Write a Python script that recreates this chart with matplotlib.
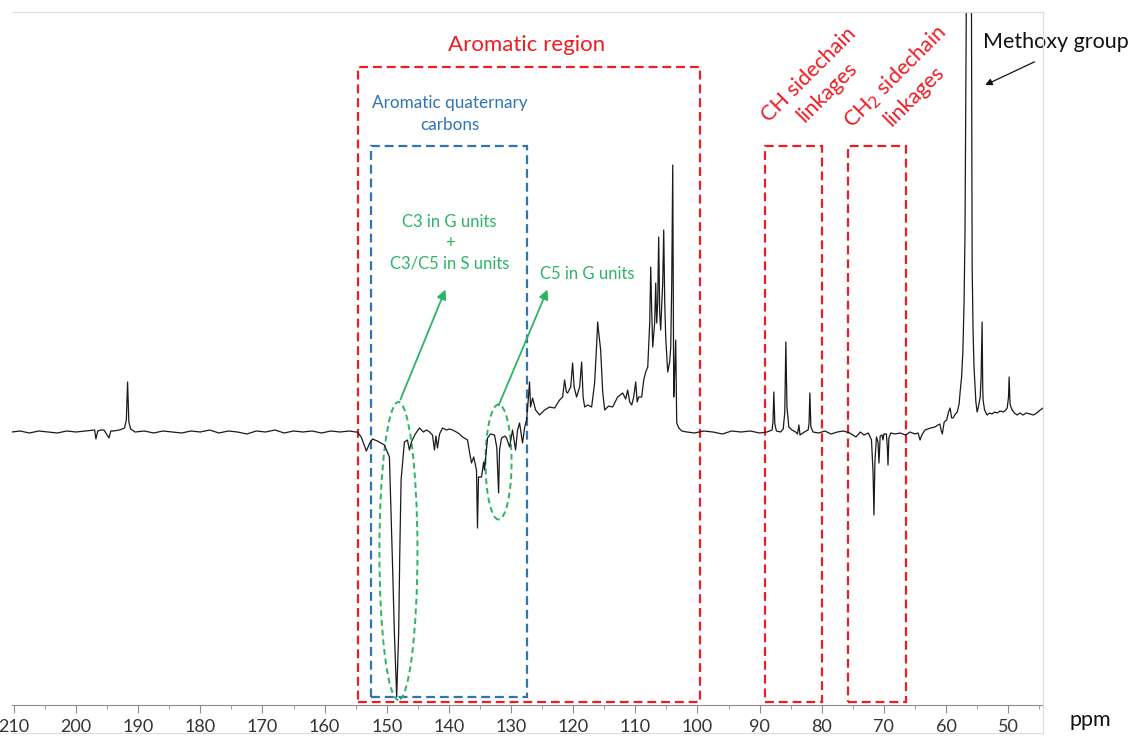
import matplotlib.pyplot as plt
from matplotlib.patches import Rectangle, Ellipse
from matplotlib.lines import Line2D

plt.rcParams['font.family'] = ['Lato', 'DejaVu Sans']

# spectrum, ppm / intensity (arbitrary units)
left_ppm = [210.3, 209, 207.5, 206, 204.5, 203, 201.5, 200, 198.5, 197, 196.8, 196.5, 196, 195.5,
            194.7, 194.4, 194, 193, 192.2, 191.9, 191.7, 191.5, 191.2, 190.5, 189, 187.5, 186,
            184.5, 183, 181.5, 180, 178.5, 177, 175.5, 174, 172.5, 171, 169.5, 168, 166.5, 165,
            163.5, 162, 160.5, 159, 157.5, 156, 155]
left_int = [0, 1, -1, 1, 0, -1, 1, 0, 1, 2, -7, 1, 2, 2,
            -6, 1, 1, 2, 4, 12, 50, 10, 3, 0, 1, -1, 1,
            0, -1, 1, 0, 2, -1, 1, 0, -2, 1, 0, 2, -1, 1,
            0, 1, -1, 1, 0, 1, 0]

arom_ppm = [154.73, 154.1, 153.28, 152.8, 152.31, 151.5, 150.38, 149.57, 149.09, 148.77, 148.4,
            148.08, 147.9, 147.69, 147.16, 146.67, 146.35, 146.03, 145.4, 144.74, 144.1, 143.61,
            143.1, 142.64, 142.32, 142.08, 141.84, 141.5, 141.03, 140.4, 139.9, 139.42, 138.8,
            138.3, 137.81, 137.0, 136.68, 136.36, 136.0, 135.56, 135.4, 135.23, 134.75, 134.4,
            134.27, 133.78, 133.3, 132.66, 132.3, 132.0, 131.85, 131.53, 131.0, 130.72, 130.24,
            129.76, 129.27, 128.95, 128.63, 128.15, 127.8, 127.5, 127.26, 127.02, 126.86, 126.53,
            126.05, 125.41, 124.6, 123.8, 122.99, 122.18, 121.7, 121.38, 121.1, 120.9, 120.4,
            120.09, 119.85, 119.45, 118.96, 118.64, 118.4, 118.15, 117.67, 117.03, 116.55, 116.2,
            116.06, 115.9, 115.58, 115.25, 114.93, 114.3, 113.65, 112.84, 112.04, 111.55, 111.23,
            110.9, 110.58, 110.26, 109.94, 109.7, 109.46, 108.97, 108.65, 108.33, 108.0, 107.68,
            107.52, 107.36, 107.2, 106.88, 106.72, 106.56, 106.4, 106.24, 106.08, 105.92, 105.59,
            105.43, 105.27, 105.11, 104.79, 104.47, 104.3, 104.14, 103.98, 103.82, 103.66, 103.5,
            103.34, 103.0, 102.53, 101.7]
arom_int = [0, -5, -19, -12, -7, -9, -13, -25, -128, -201, -265,
            -201, -120, -48, -10, -8, -18, -10, -2, 4, 0, 2,
            0, -3, -18, -4, -16, -2, 4, 2, 3, 2, 0,
            -2, -5, -8, -20, -31, -25, -38, -96, -45, -45, -30,
            -38, -6, -2, -3, -15, -61, -18, -6, -4, -6, -15,
            2, -18, 2, 9, -11, 5, 12, 30, 50, 25, 34,
            22, 17, 22, 25, 24, 32, 35, 52, 40, 39, 45,
            69, 45, 35, 45, 70, 35, 25, 27, 25, 49, 90,
            110, 100, 82, 40, 22, 26, 25, 35, 39, 33, 42,
            30, 27, 35, 50, 30, 35, 35, 52, 60, 65, 110,
            165, 120, 85, 110, 149, 109, 130, 195, 120, 102, 150,
            202, 130, 95, 60, 70, 85, 150, 267, 35, 60, 92,
            9, 4, 1, 0]

side_ppm = [100.5, 99, 97.5, 96, 94.5, 93, 91.5, 90, 88.8, 88.0, 87.85, 87.71, 87.55, 87.3, 86.6,
            86.2, 85.95, 85.78, 85.6, 85.3, 84.8, 84.2, 83.9, 83.68, 83.5, 82.8, 82.2, 82.05, 81.91,
            81.75, 81.4, 80.5, 79.5, 78.5, 77.5, 76.5, 75.5, 74.5, 73.8, 73.2, 72.5, 72.0, 71.75,
            71.6, 71.45, 71.2, 70.95, 70.79, 70.6, 70.3, 70.15, 70.0, 69.6, 69.45, 69.34, 69.2,
            68.9, 68.2, 67.4, 66.5, 65.8, 65.0, 64.5, 64.19, 63.9, 63.4, 62.5, 61.8, 61.3, 61.0,
            60.8, 60.6, 60.3, 59.9, 59.6, 59.35, 59.1, 58.87, 58.5, 58.2, 57.9]
side_int = [-1, 1, 0, -2, 1, 0, 1, -1, 0, 2, 10, 40, 8, 1, 0,
            3, 20, 90, 25, 5, 2, 0, -2, 7, -3, 0, 2, 8, 39,
            5, 0, -1, 1, -2, 0, 1, -1, -5, 0, -3, -1, -8, -40,
            -83, -30, -5, -10, -31, -4, -3, -8, -2, -2, -15, -33, -6,
            -1, -2, -1, -3, 0, -2, -1, -8, -3, 2, 4, 5, 7, 8,
            2, -2, 10, 12, 20, 24, 14, 14, 18, 20, 28]

meo_ppm = [57.75, 57.5, 57.3, 57.1, 56.95, 56.75, 56.6, 56.3, 56.0, 55.9, 55.8, 55.65, 55.5, 55.2,
           55.0, 54.8, 54.5, 54.36, 54.2, 54.1, 54.04, 53.8, 53.4, 53.0, 52.6, 52.2, 51.78, 51.3,
           50.8, 50.4, 50.16, 49.95, 49.85, 49.7, 49.5, 49.36, 49.0, 48.55, 48.1, 47.6, 47.1,
           46.46, 46.0, 45.65, 45.2, 44.85, 44.4]
meo_int = [39, 55, 79, 130, 199, 400, 700, 1000, 700, 400, 165, 100, 65, 30,
           20, 25, 35, 55, 110, 45, 32, 22, 17, 19, 18, 20, 19, 21,
           20, 22, 24, 35, 55, 28, 24, 22, 19, 17, 19, 17, 19,
           18, 17, 18, 20, 22, 24]

ticks = list(range(210, 40, -10))

RED = '#ee1c24'
BLUE = '#2e75b6'
GREEN = '#2bb466'

fig = plt.figure(figsize=(11.34, 7.4), dpi=100)
ax = fig.add_axes([12 / 1134, 35 / 740, 1031 / 1134, 693 / 740])

ppm = left_ppm + arom_ppm + side_ppm + meo_ppm
inten = left_int + arom_int + side_int + meo_int
ax.plot(ppm, inten, color='#1a1a1a', lw=0.9)

ax.set_xlim(210.3, 44.4)
ax.set_ylim(-273, 420)
ax.set_xticks(ticks)
ax.set_xticklabels([str(t) for t in ticks])
ax.set_xticks(list(range(205, 44, -10)), minor=True)
ax.set_yticks([])
for s in ['left', 'top', 'right']:
    ax.spines[s].set_visible(False)
ax.spines['bottom'].set_color('#8c8c8c')
ax.tick_params(axis='x', which='major', length=6, color='#8c8c8c', labelsize=13,
               labelcolor='#333333', pad=4)
ax.tick_params(axis='x', which='minor', length=3, color='#8c8c8c')

# light frame around the picture
W, H = 1134, 740
for xs, ys in [([12, 1043], [12, 12]), ([1043, 1043], [12, 733]), ([12, 1043], [733, 733])]:
    fig.add_artist(Line2D([x / W for x in xs], [1 - y / H for y in ys], color='#dcdcdc', lw=0.8))

dash = (0, (4, 2.2))
ax.add_patch(Rectangle((154.57, -270), 99.63 - 154.57, 635, fill=False, ec=RED, lw=1.6, ls=dash))
ax.add_patch(Rectangle((152.47, -265), 127.5 - 152.47, 551, fill=False, ec=BLUE, lw=1.6, ls=dash))
ax.add_patch(Rectangle((89.16, -270), 79.98 - 89.16, 556, fill=False, ec=RED, lw=1.6, ls=dash))
ax.add_patch(Rectangle((75.8, -270), 66.44 - 75.8, 556, fill=False, ec=RED, lw=1.6, ls=dash))

ax.add_patch(Ellipse((148.12, -119), 6.12, 298, fill=False, ec=GREEN, lw=1.4, ls=(0, (3, 2))))
ax.add_patch(Ellipse((132.01, -30), 4.19, 115, fill=False, ec=GREEN, lw=1.4, ls=(0, (3, 2))))

arrow_g = dict(arrowstyle='-|>', color=GREEN, lw=1.3, mutation_scale=14)
ax.annotate('', xy=(140.39, 145), xytext=(147.96, 30), arrowprops=arrow_g)
ax.annotate('', xy=(123.96, 145), xytext=(132.17, 24), arrowprops=arrow_g)

ax.text(127.5, 387, 'Aromatic region', color=RED, fontsize=16, ha='center', va='center')
ax.text(139.9, 318, 'Aromatic quaternary\ncarbons', color=BLUE, fontsize=12.3, ha='center',
        va='center', linespacing=1.45)
ax.text(139.9, 189, 'C3 in G units\n+\nC3/C5 in S units', color=GREEN, fontsize=12, ha='center',
        va='center', linespacing=1.35)
ax.text(117.8, 158, 'C5 in G units', color=GREEN, fontsize=12, ha='center', va='center')
ax.text(80.6, 349, 'CH sidechain\nlinkages', color=RED, fontsize=15.5, ha='center', va='center',
        rotation=45, rotation_mode='anchor', linespacing=1.3)
ax.text(66.7, 346, 'CH$_2$ sidechain\nlinkages', color=RED, fontsize=15.5, ha='center', va='center',
        rotation=45, rotation_mode='anchor', linespacing=1.3)

ax.annotate('Methoxy group', xy=(53.7, 347), xytext=(42.4, 390), fontsize=15.5, ha='center',
            va='center', color='#111111', annotation_clip=False,
            arrowprops=dict(arrowstyle='-|>', color='#111111', lw=0.9, mutation_scale=10,
                            shrinkA=12, shrinkB=0, relpos=(0.5, 0)))
ax.text(36.8, -288, 'ppm', fontsize=15.5, ha='center', va='center', color='#111111')

fig.savefig('out.png', dpi=100)
